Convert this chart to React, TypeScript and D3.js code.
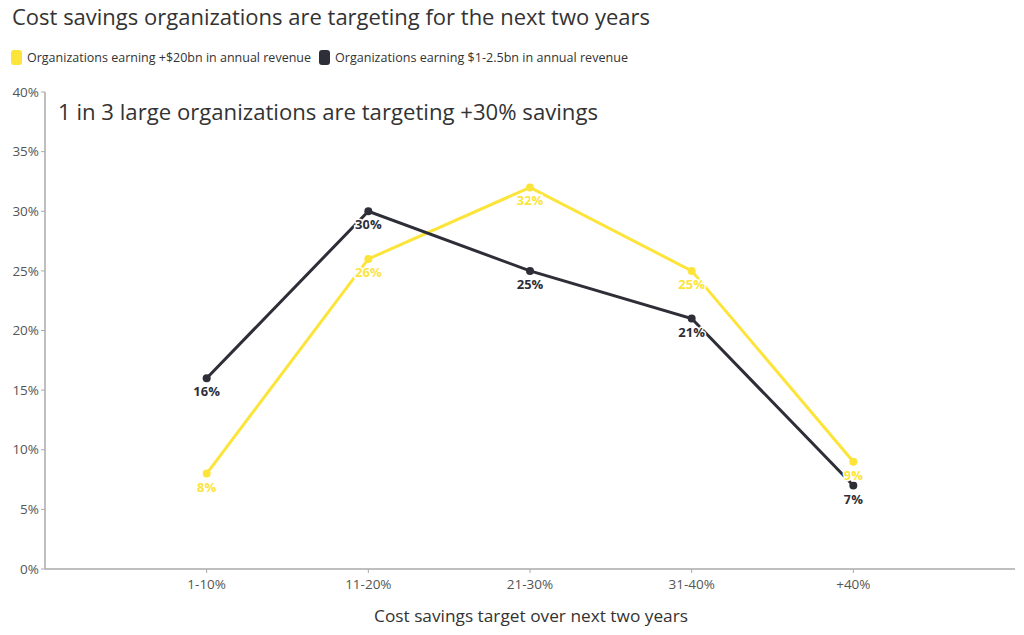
import React from "react";
import * as d3 from "d3";

const categories = ["1-10%", "11-20%", "21-30%", "31-40%", "+40%"];
const largeOrgs = [8, 26, 32, 25, 9];
const midOrgs = [16, 30, 25, 21, 7];
const yTicks = [0, 5, 10, 15, 20, 25, 30, 35, 40];
const seriesNames = [
  "Organizations earning +$20bn in annual revenue",
  "Organizations earning $1-2.5bn in annual revenue",
];

const YELLOW = "#FCE43A";
const DARK = "#2E2E38";
const FONT = "'Open Sans', 'Noto Sans', sans-serif";

export default function App() {
  const W = 1024, H = 635;
  const x0 = 45, x1 = 1015, yTop = 92, yBot = 569;
  const x = d3.scalePoint<string>().domain(categories).range([x0, x1]).padding(1);
  const y = d3.scaleLinear().domain([0, 40]).range([yBot, yTop]);
  const line = d3.line<number>().x((_, i) => x(categories[i]) as number).y((d) => y(d));

  const series = [
    { name: seriesNames[0], values: largeOrgs, color: YELLOW },
    { name: seriesNames[1], values: midOrgs, color: DARK },
  ];

  return (
    <svg width={W} height={H} style={{ position: "absolute", left: 0, top: 0, background: "#fff" }} fontFamily={FONT}>
      <text x={12} y={25} fontSize={22} fill="#333" textLength={638} lengthAdjust="spacingAndGlyphs">Cost savings organizations are targeting for the next two years</text>

      {/* legend */}
      <rect x={11} y={50} width={11} height={15} rx={3} fill={YELLOW} />
      <text x={27} y={62} fontSize={12.5} fill="#333" textLength={284} lengthAdjust="spacingAndGlyphs">{seriesNames[0]}</text>
      <rect x={319} y={50} width={11} height={15} rx={3} fill={DARK} />
      <text x={335} y={62} fontSize={12.5} fill="#333" textLength={293} lengthAdjust="spacingAndGlyphs">{seriesNames[1]}</text>

      {/* annotation */}
      <text x={58} y={120} fontSize={22} fill="#333" textLength={540} lengthAdjust="spacingAndGlyphs">1 in 3 large organizations are targeting +30% savings</text>

      {/* y axis */}
      <line x1={x0} x2={x0} y1={yTop} y2={yBot} stroke="#aaa" strokeWidth={1.5} />
      {yTicks.map((t) => (
        <g key={t}>
          <line x1={x0 - 4} x2={x0} y1={y(t)} y2={y(t)} stroke="#aaa" />
          <text x={39} y={y(t)} dy="0.35em" textAnchor="end" fontSize={13.5} fill="#555">{t}%</text>
        </g>
      ))}

      {/* x axis */}
      <line x1={x0} x2={x1} y1={yBot} y2={yBot} stroke="#aaa" strokeWidth={1.5} />
      {categories.map((c) => (
        <g key={c}>
          <line x1={x(c)} x2={x(c)} y1={yBot} y2={yBot + 4} stroke="#aaa" />
          <text x={x(c)} y={yBot + 20} textAnchor="middle" fontSize={13.5} fill="#555">{c}</text>
        </g>
      ))}
      <text x={531} y={622} textAnchor="middle" fontSize={17} fill="#333" textLength={314} lengthAdjust="spacingAndGlyphs">Cost savings target over next two years</text>

      {/* lines */}
      {series.map((s) => (
        <g key={s.name}>
          <path d={line(s.values) || ""} fill="none" stroke={s.color} strokeWidth={3} />
          {s.values.map((v, i) => (
            <circle key={i} cx={x(categories[i])} cy={y(v)} r={4} fill={s.color} />
          ))}
        </g>
      ))}
      {series.map((s) => (
        <g key={s.name + "l"}>
          {s.values.map((v, i) => (
            <text
              key={i}
              x={x(categories[i])}
              y={y(v) + 18}
              textAnchor="middle"
              fontSize={13}
              fontWeight="bold"
              fill={s.color}
              stroke="#fff"
              strokeWidth={3}
              paintOrder="stroke"
            >
              {v}%
            </text>
          ))}
        </g>
      ))}
    </svg>
  );
}
